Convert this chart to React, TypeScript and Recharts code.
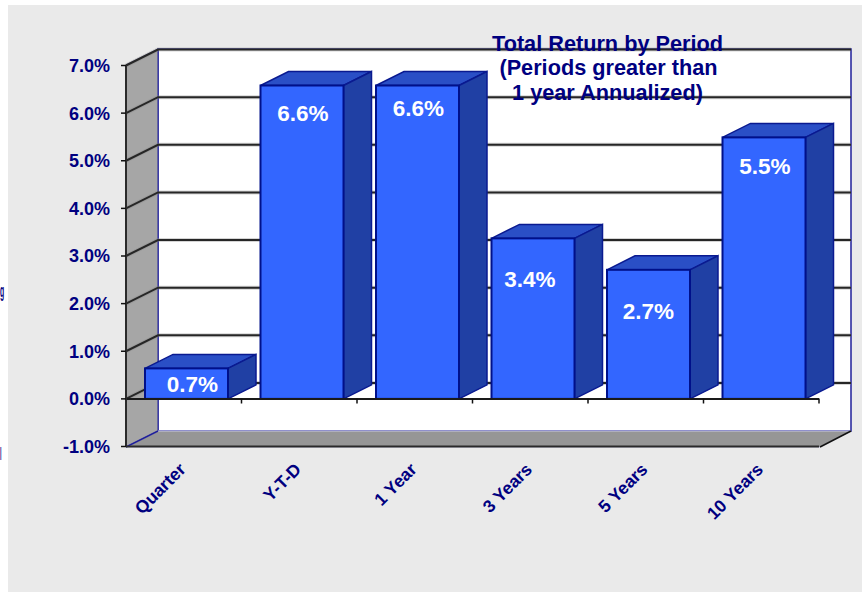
import React from 'react';
import { BarChart, Bar, XAxis, YAxis, CartesianGrid, ReferenceLine } from 'recharts';

const categories = ['Quarter', 'Y-T-D', '1 Year', '3 Years', '5 Years', '10 Years'];
const returnValues = [0.64, 6.58, 6.58, 3.37, 2.71, 5.49];
const returnLabels = ['0.7%', '6.6%', '6.6%', '3.4%', '2.7%', '5.5%'];
const yTicks = [-1, 0, 1, 2, 3, 4, 5, 6, 7];
const titleLines = ['Total Return by Period', '(Periods greater than', '1 year Annualized)'];

const chartData = categories.map((name, i) => ({ name, value: returnValues[i], label: returnLabels[i] }));

const NAVY = '#000080';
const FONT = '"Liberation Sans", Arial, sans-serif';

// depth of the fake 3D box
const WALL_DX = 32;
const WALL_DY = 16;
const BAR_DX = 28;
const BAR_DY = 14;
const ZERO_Y = 398.5;
const BAND = 115.5;

// where the old chart put each data label, relative to the bar top centre
const labelNudge = [
  { dx: 6, dy: 23.5 },
  { dx: 1, dy: 35 },
  { dx: 1, dy: 30 },
  { dx: -3, dy: 49 },
  { dx: 0, dy: 49 },
  { dx: 1, dy: 36.5 },
];
const titleNudge = [0, 1, 0];

const Bar3D = (props: any) => {
  const { x, y, width, height, index, payload } = props;
  const l = x + 3;
  const r = l + width;
  const b = y + height;
  const nudge = labelNudge[index];
  return (
    <g>
      <polygon points={`${l},${y} ${l + BAR_DX},${y - BAR_DY} ${r + BAR_DX},${y - BAR_DY} ${r},${y}`} fill="#2A4FC6" stroke="#0A1A90" strokeWidth={1.5} />
      <polygon points={`${r},${y} ${r + BAR_DX},${y - BAR_DY} ${r + BAR_DX},${b - BAR_DY} ${r},${b}`} fill="#2040A4" stroke="#0A1A90" strokeWidth={1.5} />
      <rect x={l} y={y} width={width} height={height} fill="#3366FF" stroke="#00108A" strokeWidth={2} />
      <text x={l + width / 2 + nudge.dx} y={y + nudge.dy} textAnchor="middle" fill="#fff" fontSize={22.5} fontWeight={700} fontFamily={FONT}>
        {payload.label}
      </text>
    </g>
  );
};

const CategoryTick = (props: any) => {
  const { x, y, payload } = props;
  return (
    <g>
      <line x1={x + BAND / 2} x2={x + BAND / 2} y1={ZERO_Y} y2={ZERO_Y + 5} stroke="#111" strokeWidth={1.5} />
      <text
        transform={`translate(${x + 3},${y + 16}) rotate(-45)`}
        textAnchor="end"
        fill={NAVY}
        fontSize={17.5}
        fontWeight={700}
        fontFamily={FONT}
      >
        {payload.value}
      </text>
    </g>
  );
};

const WallLine = (props: any) => {
  const { x1, y1 } = props;
  const d = `M${x1} ${y1} L${x1 + WALL_DX} ${y1 - WALL_DY} H851`;
  return (
    <g>
      <path d={d} fill="none" stroke="#888" strokeOpacity={0.35} strokeWidth={4} />
      <path d={d} fill="none" stroke="#262626" strokeWidth={2} />
    </g>
  );
};

export default function App() {
  return (
    <div style={{ position: 'absolute', left: 0, top: 0, width: 866, height: 592, background: '#fff', overflow: 'hidden' }}>
      <div style={{ position: 'absolute', left: 8, top: 5, width: 854, height: 587, background: '#EAEAEA' }} />
      {/* box walls sit under the transparent chart */}
      <svg width={866} height={592} style={{ position: 'absolute', left: 0, top: 0 }}>
        <polygon points="158,49 851,49 851,431 158,431" fill="#fff" stroke="#20209A" strokeWidth={1.5} />
        <polygon points="126,65 158,49 158,431 126,447" fill="#A6A6A6" stroke="#20209A" strokeWidth={1} />
        <polygon points="126,447 820,447 851,431 158,431" fill="#969696" stroke="#C8C8E4" strokeWidth={1} />
        <line x1={820} y1={447} x2={851} y2={431} stroke="#111" strokeWidth={1.5} />
        <line x1={126} y1={447} x2={158} y2={431} stroke="#20209A" strokeWidth={1.5} />
        {/* scraps of a neighbouring label at the page edge, squeezed to stay on the page */}
        <text transform="translate(0,297) scale(0.38,1)" fill={NAVY} fontSize={18} fontWeight={700} fontFamily={FONT}>g</text>
        <text transform="translate(0,460) scale(0.3,1)" fill={NAVY} fontSize={18} fontWeight={700} fontFamily={FONT}>l</text>
      </svg>
      <div style={{ position: 'absolute', left: 0, top: 0 }}>
        <BarChart width={866} height={592} data={chartData} barSize={83} margin={{ top: 65.5, right: 47, bottom: 85.5, left: 0 }}>
          <CartesianGrid vertical={false} horizontalValues={[0, 1, 2, 3, 4, 5, 6, 7]} horizontal={WallLine} />
          <ReferenceLine y={0} stroke="#1a1a1a" strokeWidth={2} />
          <XAxis
            dataKey="name"
            height={60}
            interval={0}
            tick={CategoryTick}
            tickLine={false}
            axisLine={{ stroke: '#2a2a2a', strokeWidth: 2 }}
          />
          <YAxis
            width={126}
            domain={[-1, 7]}
            ticks={yTicks}
            interval={0}
            tickSize={5}
            tickMargin={11}
            tickFormatter={(v: number) => `${v.toFixed(1)}%`}
            tick={{ fill: NAVY, fontSize: 18, fontWeight: 700, fontFamily: FONT }}
            tickLine={{ stroke: '#111', strokeWidth: 1.5 }}
            axisLine={{ stroke: '#2a2a2a', strokeWidth: 2 }}
          />
          <Bar dataKey="value" shape={Bar3D} isAnimationActive={false} />
          <text textAnchor="middle" fill={NAVY} fontSize={21.7} fontWeight={700} fontFamily={FONT}>
            {titleLines.map((line, i) => (
              <tspan key={line} x={607.5 + titleNudge[i]} y={50.5 + i * 24.5}>
                {line}
              </tspan>
            ))}
          </text>
        </BarChart>
      </div>
    </div>
  );
}
